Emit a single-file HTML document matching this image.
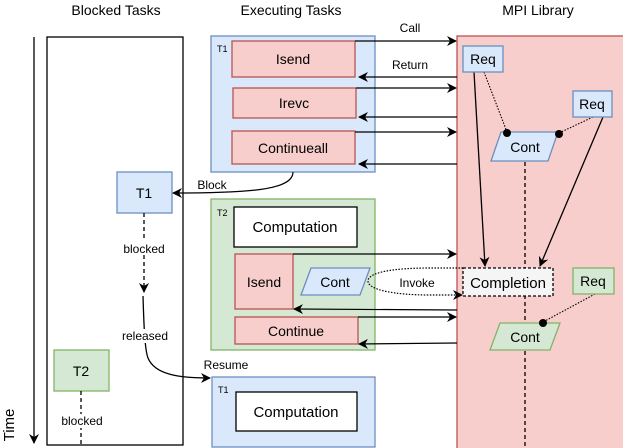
<!DOCTYPE html>
<html><head><meta charset="utf-8"><style>
html,body{margin:0;padding:0;background:#fff;}
svg{display:block;font-family:"Liberation Sans",sans-serif;}
</style></head><body>
<svg width="623" height="448" viewBox="0 0 623 448" xmlns="http://www.w3.org/2000/svg">
<defs>
<marker id="a" viewBox="0 0 10 10" refX="9" refY="5" markerWidth="10" markerHeight="10" orient="auto" markerUnits="userSpaceOnUse"><path d="M0,0 L10,5 L0,10 L3,5 Z" fill="#000"/></marker>
</defs>
<g font-size="14" text-anchor="middle" fill="#000">
<text x="116" y="15">Blocked Tasks</text>
<text x="291" y="15">Executing Tasks</text>
<text x="538" y="15">MPI Library</text>
</g>
<line x1="34" y1="37" x2="34" y2="443" stroke="#000" stroke-width="1.3" marker-end="url(#a)"/>
<text x="14" y="425" font-size="15" text-anchor="middle" transform="rotate(-90 14 425)">Time</text>
<rect x="47" y="37" width="136" height="408" fill="#fff" stroke="#000" stroke-width="1.3"/>
<rect x="117" y="172" width="55" height="41" fill="#dae8fc" stroke="#6c8ebf" stroke-width="1.3"/>
<text x="144" y="198" font-size="14" text-anchor="middle">T1</text>
<line x1="144" y1="213" x2="144" y2="292" stroke="#000" stroke-dasharray="4 3" stroke-width="1.3" marker-end="url(#a)"/>
<rect x="120" y="241" width="48" height="14" fill="#fff"/>
<text x="144" y="253" font-size="12" text-anchor="middle">blocked</text>
<path d="M143,296 C144,330 145,350 148,358 C155,375 180,378 210,378" fill="none" stroke="#000" stroke-width="1.3" marker-end="url(#a)"/>
<rect x="118" y="329" width="54" height="14" fill="#fff"/>
<text x="145" y="340" font-size="12" text-anchor="middle">released</text>
<text x="226" y="369" font-size="12" text-anchor="middle">Resume</text>
<rect x="54" y="350" width="55" height="41" fill="#d5e8d4" stroke="#82b366" stroke-width="1.3"/>
<text x="81" y="376" font-size="14" text-anchor="middle">T2</text>
<line x1="81" y1="391" x2="81" y2="445" stroke="#000" stroke-dasharray="4 3" stroke-width="1.3"/>
<rect x="58" y="414" width="48" height="14" fill="#fff"/>
<text x="82" y="425" font-size="12" text-anchor="middle">blocked</text>
<rect x="457" y="36" width="170" height="416" fill="#f8cecc" stroke="#b85450" stroke-width="1.3"/>
<rect x="211" y="36" width="164" height="136" fill="#dae8fc" stroke="#6c8ebf" stroke-width="1.3"/>
<text x="217" y="52" font-size="9">T1</text>
<rect x="232" y="41" width="123" height="36" fill="#f8cecc" stroke="#b85450" stroke-width="1.3"/>
<text x="293" y="64" font-size="14" text-anchor="middle">Isend</text>
<rect x="233" y="88" width="123" height="30" fill="#f8cecc" stroke="#b85450" stroke-width="1.3"/>
<text x="294" y="108" font-size="14" text-anchor="middle">Irevc</text>
<rect x="232" y="131" width="123" height="33" fill="#f8cecc" stroke="#b85450" stroke-width="1.3"/>
<text x="293" y="153" font-size="14" text-anchor="middle">Continueall</text>
<g stroke="#000" stroke-width="1.2" fill="none">
<line x1="355" y1="41" x2="456" y2="41" marker-end="url(#a)"/>
<line x1="457" y1="77" x2="359" y2="77" marker-end="url(#a)"/>
<line x1="356" y1="88" x2="456" y2="88" marker-end="url(#a)"/>
<line x1="457" y1="117" x2="359" y2="117" marker-end="url(#a)"/>
<line x1="355" y1="132" x2="456" y2="132" marker-end="url(#a)"/>
<line x1="457" y1="164" x2="359" y2="164" marker-end="url(#a)"/>
<path d="M293,172 C293,190 250,193 173,193" marker-end="url(#a)"/>
</g>
<text x="410" y="32" font-size="12" text-anchor="middle">Call</text>
<text x="410" y="69" font-size="12" text-anchor="middle">Return</text>
<text x="212" y="189" font-size="12" text-anchor="middle">Block</text>
<rect x="211" y="199" width="164" height="151" fill="#d5e8d4" stroke="#82b366" stroke-width="1.3"/>
<text x="217" y="216" font-size="9">T2</text>
<rect x="234" y="207" width="123" height="40" fill="#fff" stroke="#000" stroke-width="1.3"/>
<text x="295" y="232" font-size="15" text-anchor="middle">Computation</text>
<rect x="235" y="254" width="58" height="55" fill="#f8cecc" stroke="#b85450" stroke-width="1.3"/>
<text x="264" y="287" font-size="14" text-anchor="middle">Isend</text>
<polygon points="311,268 370,268 360,295 301,295" fill="#dae8fc" stroke="#6c8ebf" stroke-width="1.3"/>
<text x="335" y="287" font-size="14" text-anchor="middle">Cont</text>
<rect x="235" y="317" width="123" height="27" fill="#f8cecc" stroke="#b85450" stroke-width="1.3"/>
<text x="296" y="336" font-size="14" text-anchor="middle">Continue</text>
<g stroke="#000" stroke-width="1.2" fill="none">
<line x1="293" y1="254" x2="456" y2="254" marker-end="url(#a)"/>
<line x1="457" y1="310" x2="294" y2="309" marker-end="url(#a)"/>
<line x1="358" y1="317" x2="456" y2="317" marker-end="url(#a)"/>
<line x1="457" y1="343" x2="359" y2="344" marker-end="url(#a)"/>
<path d="M463,268 L430,268 C395,268 368,272 368,281 C368,290 395,295 430,295 L462,295" stroke-dasharray="1.5 1.5" marker-end="url(#a)"/>
</g>
<text x="417" y="287" font-size="12" text-anchor="middle">Invoke</text>
<line x1="525" y1="162" x2="525" y2="448" stroke="#000" stroke-dasharray="4 3" stroke-width="1.3"/>
<rect x="463" y="268" width="90" height="28" fill="#f5f5f5" stroke="#000" stroke-dasharray="3 2" stroke-width="1.3"/>
<text x="508" y="288" font-size="15" text-anchor="middle">Completion</text>
<g stroke="#000" stroke-width="1.3" fill="none">
<line x1="474" y1="72" x2="485" y2="266" marker-end="url(#a)"/>
<line x1="603" y1="117" x2="540" y2="266" marker-end="url(#a)"/>
<line x1="484" y1="72" x2="507" y2="132" stroke-dasharray="1.5 1.5" stroke-width="1.1"/>
<line x1="593" y1="117" x2="559" y2="133" stroke-dasharray="1.5 1.5" stroke-width="1.1"/>
<line x1="595" y1="294" x2="543" y2="322" stroke-dasharray="1.5 1.5" stroke-width="1.1"/>
</g>
<rect x="463" y="46" width="40" height="26" fill="#dae8fc" stroke="#6c8ebf" stroke-width="1.3"/>
<text x="483" y="64" font-size="14" text-anchor="middle">Req</text>
<rect x="573" y="91" width="39" height="26" fill="#dae8fc" stroke="#6c8ebf" stroke-width="1.3"/>
<text x="592" y="109" font-size="14" text-anchor="middle">Req</text>
<polygon points="501,132 558,132 548,161 491,161" fill="#dae8fc" stroke="#6c8ebf" stroke-width="1.3"/>
<text x="525" y="152" font-size="14" text-anchor="middle">Cont</text>
<circle cx="507" cy="133" r="4" fill="#000"/>
<circle cx="559" cy="134" r="4" fill="#000"/>
<rect x="573" y="268" width="41" height="26" fill="#d5e8d4" stroke="#82b366" stroke-width="1.3"/>
<text x="593" y="286" font-size="14" text-anchor="middle">Req</text>
<polygon points="500,323 560,323 550,350 490,350" fill="#d5e8d4" stroke="#82b366" stroke-width="1.3"/>
<text x="525" y="342" font-size="14" text-anchor="middle">Cont</text>
<circle cx="543" cy="323" r="4" fill="#000"/>
<rect x="212" y="377" width="163" height="70" fill="#dae8fc" stroke="#6c8ebf" stroke-width="1.3"/>
<text x="218" y="393" font-size="9">T1</text>
<rect x="236" y="392" width="121" height="39" fill="#fff" stroke="#000" stroke-width="1.3"/>
<text x="296" y="417" font-size="15" text-anchor="middle">Computation</text>
</svg>
</body></html>
